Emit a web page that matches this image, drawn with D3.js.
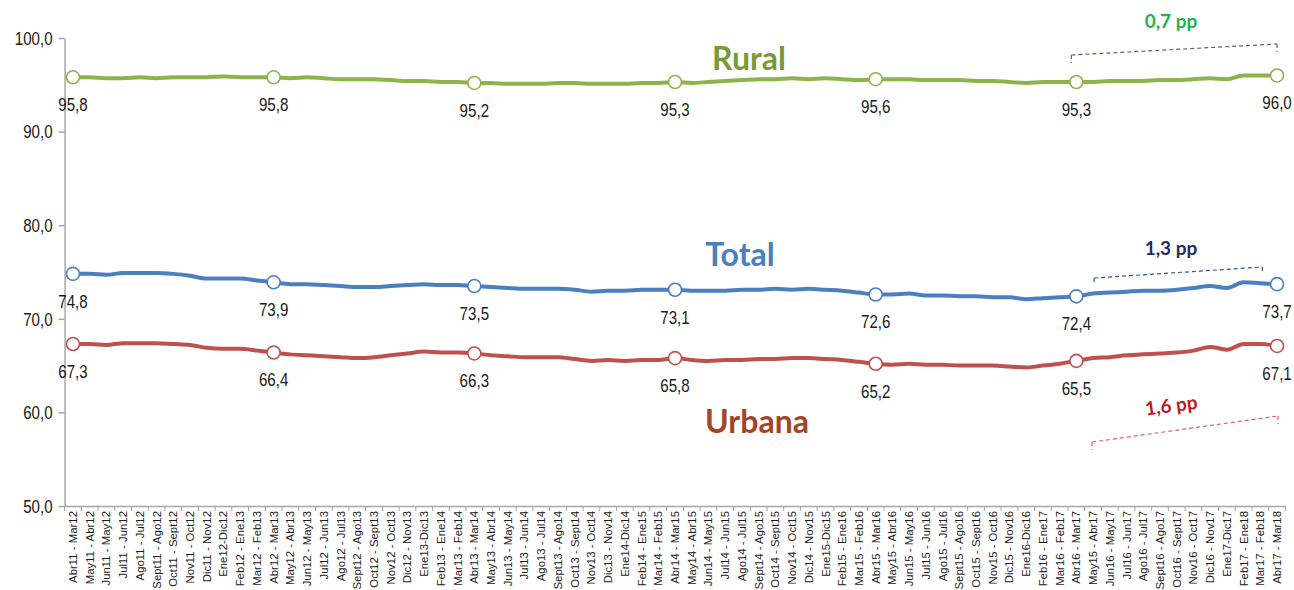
<!DOCTYPE html>
<html>
<head>
<meta charset="utf-8">
<script src="https://cdn.jsdelivr.net/npm/d3@7"></script>
<style>
  body { margin: 0; background: #fff; }
  .num { font-family: "Liberation Sans", Arial, sans-serif; font-size: 18px; fill: #1a1a1a; }
  .cat { font-family: "Liberation Sans", Arial, sans-serif; font-size: 11.4px; fill: #1a1a1a; }
  .title { font-family: Lato, "Open Sans", sans-serif; font-weight: bold; font-size: 32px; }
  .pp { font-family: Lato, "Open Sans", sans-serif; font-weight: bold; font-size: 19px; }
</style>
</head>
<body>
<div id="chart"></div>
<script>
// rolling 12-month windows
var categories = [
  "Abr11 - Mar12", "May11 - Abr12", "Jun11 - May12", "Jul11 - Jun12", "Ago11 - Jul12", "Sept11 - Ago12",
  "Oct11 - Sept12", "Nov11 - Oct12", "Dic11 - Nov12", "Ene12-Dic12", "Feb12 - Ene13", "Mar12 - Feb13",
  "Abr12 - Mar13", "May12 - Abr13", "Jun12 - May13", "Jul12 - Jun13", "Ago12 - Jul13", "Sept12 - Ago13",
  "Oct12 - Sept13", "Nov12 - Oct13", "Dic12 - Nov13", "Ene13-Dic13", "Feb13 - Ene14", "Mar13 - Feb14",
  "Abr13 - Mar14", "May13 - Abr14", "Jun13 - May14", "Jul13 - Jun14", "Ago13 - Jul14", "Sept13 - Ago14",
  "Oct13 - Sept14", "Nov13 - Oct14", "Dic13 - Nov14", "Ene14-Dic14", "Feb14 - Ene15", "Mar14 - Feb15",
  "Abr14 - Mar15", "May14 - Abr15", "Jun14 - May15", "Jul14 - Jun15", "Ago14 - Jul15", "Sept14 - Ago15",
  "Oct14 - Sept15", "Nov14 - Oct15", "Dic14 - Nov15", "Ene15-Dic15", "Feb15 - Ene16", "Mar15 - Feb16",
  "Abr15 - Mar16", "May15 - Abr16", "Jun15 - May16", "Jul15 - Jun16", "Ago15 - Jul16", "Sept15 - Ago16",
  "Oct15 - Sept16", "Nov15 - Oct16", "Dic15 - Nov16", "Ene16-Dic16", "Feb16 - Ene17", "Mar16 - Feb17",
  "Abr16 - Mar17", "May15 - Abr17", "Jun16 - May17", "Jul16 - Jun17", "Ago16 - Jul17", "Sept16 - Ago17",
  "Oct16 - Sept17", "Nov16 - Oct17", "Dic16 - Nov17", "Ene17-Dic17", "Feb17 - Ene18", "Mar17 - Feb18",
  "Abr17 - Mar18"
];

var rural = [
  95.8, 95.8, 95.7, 95.7, 95.8, 95.7, 95.8, 95.8, 95.8, 95.9, 95.8, 95.8, 95.8,
  95.7, 95.8, 95.7, 95.6, 95.6, 95.6, 95.5, 95.4, 95.4, 95.3, 95.3, 95.2,
  95.2, 95.1, 95.1, 95.1, 95.2, 95.2, 95.1, 95.1, 95.1, 95.2, 95.2, 95.3,
  95.2, 95.3, 95.4, 95.5, 95.6, 95.6, 95.7, 95.6, 95.7, 95.6, 95.5, 95.6,
  95.6, 95.6, 95.5, 95.5, 95.5, 95.4, 95.4, 95.3, 95.2, 95.3, 95.3, 95.3,
  95.3, 95.4, 95.4, 95.4, 95.5, 95.5, 95.6, 95.7, 95.6, 96.0, 96.0, 96.0
];

var total = [
  74.8, 74.8, 74.7, 74.9, 74.9, 74.9, 74.8, 74.6, 74.3, 74.3, 74.3, 74.1, 73.9,
  73.7, 73.7, 73.6, 73.5, 73.4, 73.4, 73.5, 73.6, 73.7, 73.6, 73.6, 73.5,
  73.4, 73.3, 73.2, 73.2, 73.2, 73.1, 72.9, 73.0, 73.0, 73.1, 73.1, 73.1,
  73.0, 73.0, 73.0, 73.1, 73.1, 73.2, 73.1, 73.2, 73.1, 73.0, 72.8, 72.6,
  72.6, 72.7, 72.5, 72.5, 72.4, 72.4, 72.3, 72.3, 72.1, 72.2, 72.3, 72.4,
  72.7, 72.8, 72.9, 73.0, 73.0, 73.1, 73.3, 73.5, 73.3, 73.9, 73.8, 73.7
];

var urbana = [
  67.3, 67.3, 67.2, 67.4, 67.4, 67.4, 67.3, 67.2, 66.9, 66.8, 66.8, 66.6, 66.4,
  66.2, 66.1, 66.0, 65.9, 65.8, 65.9, 66.1, 66.3, 66.5, 66.4, 66.4, 66.3,
  66.1, 66.0, 65.9, 65.9, 65.9, 65.7, 65.5, 65.6, 65.5, 65.6, 65.6, 65.8,
  65.6, 65.5, 65.6, 65.6, 65.7, 65.7, 65.8, 65.8, 65.7, 65.6, 65.4, 65.2,
  65.1, 65.2, 65.1, 65.1, 65.0, 65.0, 65.0, 64.9, 64.8, 65.0, 65.2, 65.5,
  65.8, 65.9, 66.1, 66.2, 66.3, 66.4, 66.6, 67.0, 66.7, 67.3, 67.3, 67.1
];

// points that get a marker and a value label (every 12 months)
var markIdx = [0, 12, 24, 36, 48, 60, 72];
var yTicks = [50, 60, 70, 80, 90, 100];
var seriesNames = ["Rural", "Total", "Urbana"];
var ppLabels = ["0,7 pp", "1,3 pp", "1,6 pp"];

var width = 1294, height = 590;
var squeeze = 0.84; // stands in for a narrow face, which is not installed

var svg = d3.select("#chart").append("svg")
    .attr("width", width)
    .attr("height", height);

var x = d3.scaleBand()
    .domain(categories)
    .range([64.6, 1285.4])
    .paddingInner(0)
    .paddingOuter(0);

var y = d3.scaleLinear()
    .domain([50, 100])
    .range([506, 38]);

function cx(i) { return x(categories[i]) + x.bandwidth() / 2; }
function fmt(v) { return d3.format(".1f")(v).replace(".", ","); }

/* y axis */
var yAxis = svg.append("g")
    .attr("transform", "translate(64.6,0)")
    .call(d3.axisLeft(y).tickValues(yTicks).tickSize(6).tickSizeOuter(0).tickFormat(fmt));
yAxis.select(".domain").attr("stroke", "#a6a6a6").attr("stroke-width", 1.5);
yAxis.selectAll(".tick line").attr("stroke", "#a6a6a6").attr("stroke-width", 1.5);
yAxis.selectAll(".tick text")
    .attr("class", "num")
    .attr("font-family", null).attr("font-size", null)
    .attr("x", 0)
    .attr("dy", "0.35em")
    .attr("transform", "translate(-12,0) scale(" + squeeze + ",1)");

/* x axis */
var xAxis = svg.append("g")
    .attr("transform", "translate(0,506)")
    .call(d3.axisBottom(x).tickSize(0).tickSizeOuter(0));
xAxis.select(".domain").attr("stroke", "#a6a6a6").attr("stroke-width", 1.5);
xAxis.selectAll(".tick text")
    .attr("class", "cat")
    .attr("font-family", null).attr("font-size", null)
    .attr("transform", "rotate(-90)")
    .attr("text-anchor", "end")
    .attr("x", -5)
    .attr("y", 0)
    .attr("dy", "0.35em");

// tick marks sit between categories
var bounds = categories.map(function(c) { return x(c); }).concat([x.range()[1]]);
xAxis.selectAll(".bound")
    .data(bounds)
    .enter().append("line")
    .attr("x1", function(d) { return d; })
    .attr("x2", function(d) { return d; })
    .attr("y1", 0)
    .attr("y2", 5)
    .attr("stroke", "#a6a6a6")
    .attr("stroke-width", 1);

/* series */
var series = [
  { name: seriesNames[0], values: rural, color: "#8db44a", titleColor: "#7a9a3a", tx: 749, ty: 70 },
  { name: seriesNames[1], values: total, color: "#4a7fc1", titleColor: "#4a7fc1", tx: 740, ty: 266 },
  { name: seriesNames[2], values: urbana, color: "#c0504d", titleColor: "#a4452a", tx: 757, ty: 433 }
];

var line = d3.line()
    .x(function(d, i) { return cx(i); })
    .y(function(d) { return y(d); })
    .curve(d3.curveMonotoneX);

series.forEach(function(s) {
	var g = svg.append("g");
	g.append("path")
		.datum(s.values)
		.attr("d", line)
		.attr("fill", "none")
		.attr("stroke", s.color)
		.attr("stroke-width", 4)
		.attr("stroke-linejoin", "round");

	g.selectAll("circle")
		.data(markIdx)
		.enter().append("circle")
		.attr("cx", function(i) { return cx(i); })
		.attr("cy", function(i) { return y(s.values[i]); })
		.attr("r", 6.5)
		.attr("fill", "#fff")
		.attr("stroke", s.color)
		.attr("stroke-width", 1.6);

	g.selectAll(".val")
		.data(markIdx)
		.enter().append("text")
		.attr("class", "num")
		.attr("text-anchor", "middle")
		.attr("transform", function(i) {
			return "translate(" + cx(i) + "," + (y(s.values[i]) + 34) + ") scale(" + squeeze + ",1)";
		})
		.text(function(i) { return fmt(s.values[i]); });

	svg.append("text")
		.attr("class", "title")
		.attr("x", s.tx)
		.attr("y", s.ty)
		.attr("text-anchor", "middle")
		.attr("fill", s.titleColor)
		.text(s.name);
});

/* change brackets (dashed) */
function bracket(x1, y1, x2, y2, h, color) {
	var g = svg.append("g")
		.attr("fill", "none")
		.attr("stroke", color)
		.attr("stroke-width", 1.2)
		.attr("stroke-dasharray", "4,3");
	g.append("line").attr("x1", x1).attr("y1", y1).attr("x2", x2).attr("y2", y2);
	g.append("line").attr("x1", x1).attr("y1", y1).attr("x2", x1).attr("y2", y1 + h);
	g.append("line").attr("x1", x2).attr("y1", y2).attr("x2", x2).attr("y2", y2 + h);
}

bracket(cx(60) - 5, 55, cx(72), 44, 8, "#5e6b45");
bracket(cx(61) + 1, 278, cx(71) + 2, 267, 5, "#2f5597");
bracket(cx(61) - 1, 442, cx(72) + 1, 416, 8, "#e0615e");

svg.append("text")
	.attr("class", "pp")
	.attr("x", 1171)
	.attr("y", 28)
	.attr("text-anchor", "middle")
	.attr("fill", "#22b14c")
	.text(ppLabels[0]);

svg.append("text")
	.attr("class", "pp")
	.attr("x", 1171)
	.attr("y", 255)
	.attr("text-anchor", "middle")
	.attr("fill", "#1f2d5c")
	.text(ppLabels[1]);

svg.append("text")
	.attr("class", "pp")
	.attr("text-anchor", "middle")
	.attr("fill", "#c0182a")
	.attr("transform", "translate(1172,412) rotate(-7.5)")
	.text(ppLabels[2]);
</script>
</body>
</html>
